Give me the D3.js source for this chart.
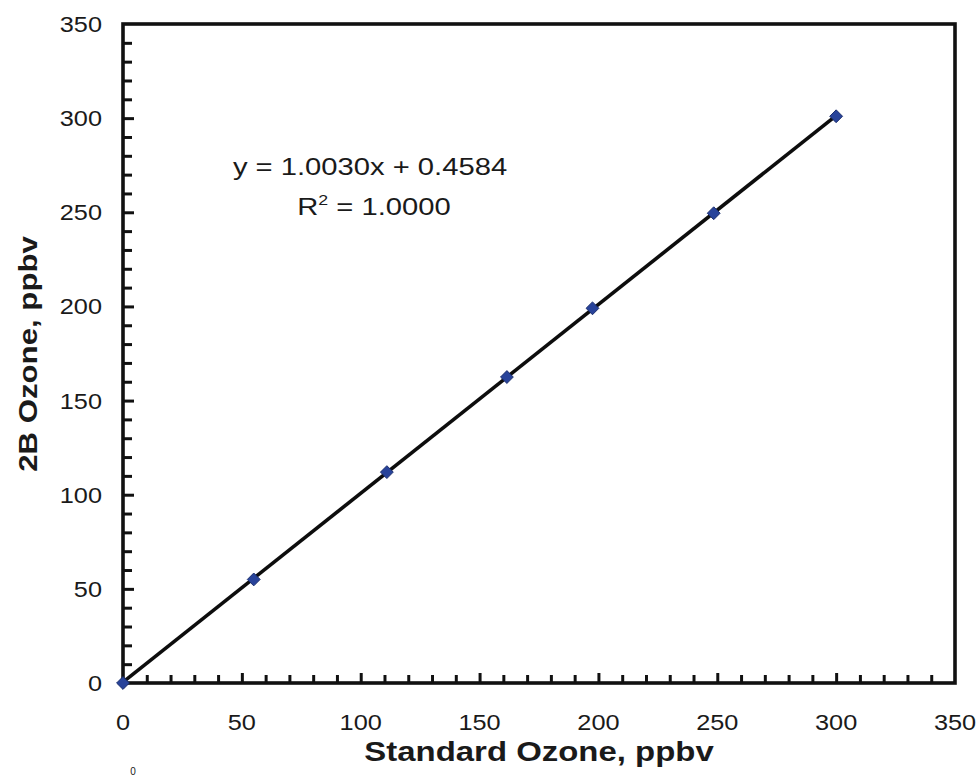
<!DOCTYPE html>
<html>
<head>
<meta charset="utf-8">
<script src="https://cdn.jsdelivr.net/npm/d3@7"></script>
<style>
  html, body { margin: 0; padding: 0; background: #fff; }
  svg { display: block; }
  text { font-family: "Liberation Sans", Arial, Helvetica, sans-serif; fill: #1a1a1a; }
</style>
</head>
<body>
<svg id="chart" width="979" height="776"></svg>
<script>
// ---- data ----
const standardOzone = [0, 55, 111, 161.5, 197.5, 248.5, 300];
const ozone2B       = [0, 55, 112, 162.5, 199, 249.5, 301];
const xTickLabels = [0, 50, 100, 150, 200, 250, 300, 350];
const yTickLabels = [0, 50, 100, 150, 200, 250, 300, 350];
const fitSlope = 1.0030;
const fitIntercept = 0.4584;
const fitR2 = "1.0000";
const xTitle = "Standard Ozone, ppbv";
const yTitle = "2B Ozone, ppbv";

// ---- layout ----
const svg = d3.select("#chart");
const x = d3.scaleLinear().domain([0, 350]).range([123, 955]);
const y = d3.scaleLinear().domain([0, 350]).range([683, 24]);
const minorVals = d3.range(0, 350, 10);

// minor + major ticks (inward)
const gx = svg.append("g").attr("transform", `translate(0,${y(0)})`);
gx.call(d3.axisBottom(x).tickValues(minorVals.filter(v => v > 0)).tickSize(-6).tickFormat(""));
gx.select(".domain").remove();
gx.selectAll(".tick line").attr("stroke", "#111").attr("stroke-width", 3)
  .attr("y2", d => d % 50 === 0 ? -10 : -8);

const gy = svg.append("g").attr("transform", `translate(${x(0)},0)`);
gy.call(d3.axisLeft(y).tickValues(minorVals.filter(v => v > 0)).tickSize(-6).tickFormat(""));
gy.select(".domain").remove();
gy.selectAll(".tick line").attr("stroke", "#111").attr("stroke-width", 3)
  .attr("x2", d => d % 50 === 0 ? 11 : 9);

// frame
svg.append("rect")
  .attr("x", x(0)).attr("y", y(350))
  .attr("width", x(350) - x(0)).attr("height", y(0) - y(350))
  .attr("fill", "none").attr("stroke", "#111").attr("stroke-width", 3.6);

// tick labels
const sx = 1.15;
svg.append("g").selectAll("text").data(xTickLabels).join("text")
  .attr("transform", d => `translate(${x(d)},730) scale(${sx},1)`)
  .attr("text-anchor", "middle")
  .style("font-size", "22px")
  .text(d => d);

svg.append("g").selectAll("text").data(yTickLabels).join("text")
  .attr("transform", d => `translate(102,${y(d) + 8}) scale(${sx},1)`)
  .attr("text-anchor", "end")
  .style("font-size", "22px")
  .text(d => d);

// trendline
const line = d3.line().x(d => x(d[0])).y(d => y(d[1]));
const x0 = d3.min(standardOzone), x1 = d3.max(standardOzone);
svg.append("path")
  .datum([[x0, fitSlope * x0 + fitIntercept], [x1, fitSlope * x1 + fitIntercept]])
  .attr("d", line)
  .attr("fill", "none").attr("stroke", "#0d0d0d").attr("stroke-width", 3.6);

// markers
const pts = standardOzone.map((v, i) => [v, ozone2B[i]]);
svg.append("g").selectAll("path").data(pts).join("path")
  .attr("d", d3.symbol().type(d3.symbolDiamond2).size(105))
  .attr("transform", d => `translate(${x(d[0])},${y(d[1])})`)
  .attr("fill", "#28439a").attr("stroke", "#1c2f6e").attr("stroke-width", 1);

// equation annotation
const ann = svg.append("g").attr("transform", "translate(370,0)");
ann.append("text")
  .attr("transform", "translate(0,175) scale(1.27,1)")
  .attr("text-anchor", "middle").style("font-size", "23px")
  .text(`y = ${fitSlope.toFixed(4)}x + ${fitIntercept.toFixed(4)}`);
const r2 = ann.append("text")
  .attr("transform", "translate(4,215) scale(1.27,1)")
  .attr("text-anchor", "middle").style("font-size", "23px");
r2.append("tspan").text("R");
r2.append("tspan").attr("dy", -10).style("font-size", "14px").text("2");
r2.append("tspan").attr("dy", 10).text(` = ${fitR2}`);

// axis titles
svg.append("text")
  .attr("transform", "translate(539,761) scale(1.22,1)")
  .attr("text-anchor", "middle")
  .style("font-size", "27px").style("font-weight", "bold")
  .text(xTitle);

svg.append("text")
  .attr("transform", "translate(37,354) rotate(-90) scale(1.2,1)")
  .attr("text-anchor", "middle")
  .style("font-size", "26px").style("font-weight", "bold")
  .text(yTitle);

// small fragment at bottom edge
svg.append("text")
  .attr("x", 133).attr("y", 775)
  .attr("text-anchor", "middle")
  .style("font-size", "10px")
  .text("0");
</script>
</body>
</html>
